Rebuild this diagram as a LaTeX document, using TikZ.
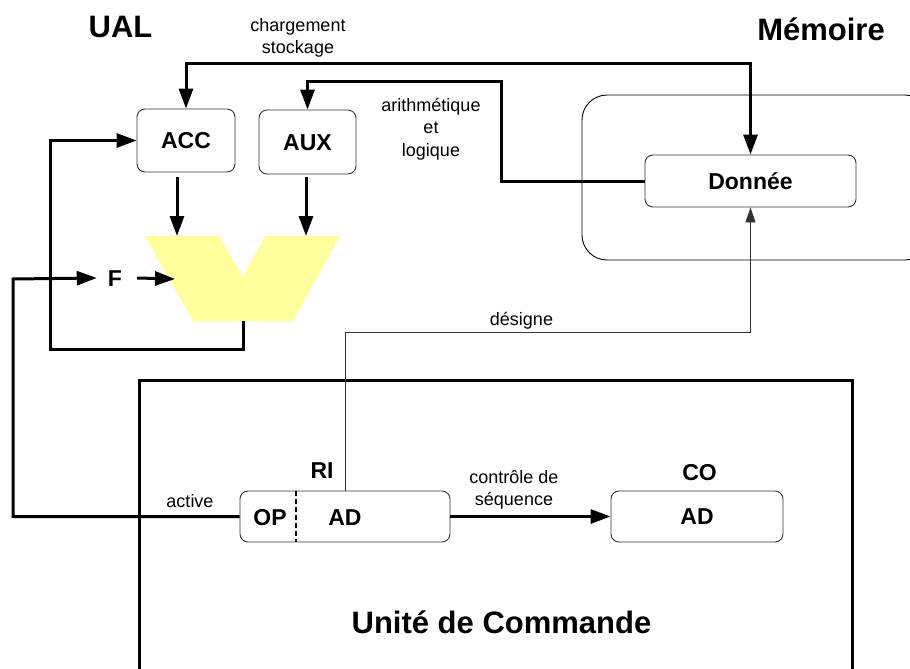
\documentclass[tikz,border=0pt]{standalone}
\usepackage{fontspec}
\setmainfont{Liberation Sans}
\usetikzlibrary{arrows.meta}
\definecolor{alu}{RGB}{255,255,158}
\begin{document}
\begin{tikzpicture}[x=1pt,y=-1pt,
  reg/.style={draw=black!80, line width=0.9pt, rounded corners=8pt, fill=white, inner sep=0pt,
    font=\fontsize{23}{27}\selectfont\bfseries, text height=16.5pt, text depth=0pt},
  lbl/.style={inner sep=0pt, font=\fontsize{23}{27}\selectfont\bfseries, text height=16.5pt, text depth=0pt},
  big/.style={inner sep=0pt, font=\fontsize{31}{36}\selectfont\bfseries, text height=22.3pt, text depth=0pt},
  small/.style={inner sep=0pt, align=center, font=\fontsize{18}{22.5}\selectfont},
  wire/.style={line width=3pt, -{Triangle[length=20pt,width=14pt]}},
  wireboth/.style={line width=3pt, {Triangle[length=20pt,width=14pt]}-{Triangle[length=20pt,width=14pt]}},
  thinwire/.style={line width=0.9pt, draw=black!80, -{Triangle[length=15pt,width=10pt]}}
]
\useasboundingbox (0,0) rectangle (910,669);
\clip (0,0) rectangle (910,669);

% Unite de commande frame
\draw[line width=3pt] (139,700) -- (139,380) -- (852,380) -- (852,700);

% memory frame
\draw[line width=0.9pt, rounded corners=25pt] (582,95) rectangle (930,260);

% titles
\node[big] (ual) at (120.5,26) {UAL};
\node[big] (mem) at (821,29) {Mémoire};
\node[big] (uc) at (501.5,622) {Unité de Commande};

% ALU
\coordinate (aluTL) at (145,236);
\coordinate (aluTM1) at (219,236);
\coordinate (aluV) at (243,277);
\coordinate (aluTM2) at (265,236);
\coordinate (aluTR) at (340,236);
\coordinate (aluBR) at (293,321);
\coordinate (aluBL) at (193,321);
\fill[alu] (aluTL) -- (aluTM1) -- (aluV) -- (aluTM2) -- (aluTR) -- (aluBR) -- (aluBL) -- cycle;
\coordinate (accIn) at (177,236);
\coordinate (auxIn) at (306,236);
\coordinate (accOut) at (177,177);
\coordinate (auxOut) at (306,177);
\coordinate (aluOut) at (243,321);
\coordinate (aluF) at (175,279);

% registers
\node[reg, minimum width=98pt, minimum height=63pt] (ACC) at (186,140.5) {ACC};
\node[reg, minimum width=97pt, minimum height=64pt] (AUX) at (307.5,142) {AUX};
\node[reg, minimum width=211pt, minimum height=52pt] (Donnee) at (750.5,181) {Donnée};
\node[reg, minimum width=210pt, minimum height=51pt] (RI) at (345,516.5) {};
\node[reg, minimum width=172pt, minimum height=51pt] (CO) at (697,516.5) {AD};
\draw[line width=2.3pt, dash pattern=on 5pt off 3pt] (296,491) -- (296,542);
\node[lbl] (OP) at (270,517) {OP};
\node[lbl] (RIAD) at (345,517.5) {AD};
\node[lbl] (RIlab) at (322,470) {RI};
\node[lbl] (COlab) at (699.5,472.5) {CO};
\node[lbl, inner xsep=11pt] (F) at (115,278) {F};

% labels
\node[small] (charg) at (298,38) {chargement\\stockage};
\node[small] (arith) at (431,129) {arithmétique\\et\\logique};
\node[small] (ctrl) at (514,490) {contrôle de\\séquence};
\node[small] (act) at (190,501) {active};
\node[small] (desig) at (521.5,320.5) {désigne};

% connectors
\draw[wireboth] (ACC.north) |- (Donnee.north |- 0,64) -- (Donnee.north);
\draw[wire] (Donnee.west) -| (501,81) -| (AUX.north);
\draw[wire] (accOut) -- (accIn);
\draw[wire] (auxOut) -- (auxIn);
\draw[wire] (aluOut) |- (50,349) |- (ACC.west);
\draw[wire] (RI.west) -| (13,279) -- (F.west);
\draw[wire] ([xshift=4pt]F.east) -- (aluF);
\draw[wire] (RI.east) -- (CO.west);
\draw[thinwire] (RI.north) |- (Donnee.south |- 0,332) -- (Donnee.south);
\end{tikzpicture}
\end{document}
